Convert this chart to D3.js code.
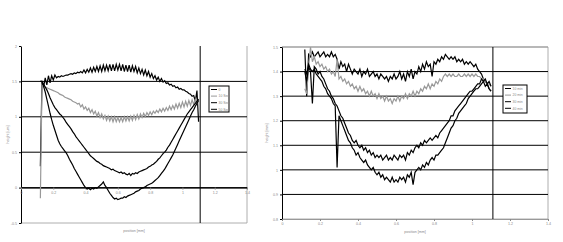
<!DOCTYPE html>
<html>
<head>
<meta charset="utf-8">
<script src="https://cdn.jsdelivr.net/npm/d3@7"></script>
<style>
  body { margin: 0; background: #fff; }
  svg { display: block; }
  text { font-family: "Liberation Sans", Arial, sans-serif; fill: #888; }
</style>
</head>
<body>
<svg id="chart" width="563" height="242"></svg>
<script>
// sample positions [mm], shared by both profiles
const positions = [0.12, 0.13, 0.14, 0.15, 0.16, 0.17, 0.18, 0.19, 0.20, 0.21,
  0.22, 0.23, 0.24, 0.25, 0.26, 0.27, 0.28, 0.29, 0.30, 0.31,
  0.32, 0.33, 0.34, 0.35, 0.36, 0.37, 0.38, 0.39, 0.40, 0.41,
  0.42, 0.43, 0.44, 0.45, 0.46, 0.47, 0.48, 0.49, 0.50, 0.51,
  0.52, 0.53, 0.54, 0.55, 0.56, 0.57, 0.58, 0.59, 0.60, 0.61,
  0.62, 0.63, 0.64, 0.65, 0.66, 0.67, 0.68, 0.69, 0.70, 0.71,
  0.72, 0.73, 0.74, 0.75, 0.76, 0.77, 0.78, 0.79, 0.80, 0.81,
  0.82, 0.83, 0.84, 0.85, 0.86, 0.87, 0.88, 0.89, 0.90, 0.91,
  0.92, 0.93, 0.94, 0.95, 0.96, 0.97, 0.98, 0.99, 1.00, 1.01,
  1.02, 1.03, 1.04, 1.05, 1.06, 1.07, 1.08, 1.09, 1.10];

// left chart: height [um]
const leftS0 = [0.30, 1.50, 1.42, 1.55, 1.45, 1.58, 1.48, 1.58, 1.52, 1.59,
  1.55, 1.57, 1.56, 1.58, 1.57, 1.58, 1.59, 1.59, 1.60, 1.61,
  1.60, 1.62, 1.61, 1.63, 1.62, 1.64, 1.62, 1.66, 1.62, 1.67,
  1.63, 1.69, 1.63, 1.70, 1.64, 1.71, 1.64, 1.72, 1.64, 1.73,
  1.65, 1.73, 1.65, 1.74, 1.65, 1.74, 1.65, 1.74, 1.66, 1.74,
  1.65, 1.74, 1.64, 1.73, 1.64, 1.73, 1.63, 1.72, 1.64, 1.71,
  1.62, 1.69, 1.61, 1.67, 1.59, 1.66, 1.58, 1.64, 1.56, 1.61,
  1.54, 1.58, 1.52, 1.56, 1.50, 1.54, 1.49, 1.51, 1.47, 1.48,
  1.45, 1.46, 1.43, 1.44, 1.41, 1.42, 1.39, 1.40, 1.38, 1.38,
  1.36, 1.35, 1.33, 1.32, 1.29, 1.30, 1.22, 1.37, 0.93];
const leftS1 = [-0.15, 1.45, 1.43, 1.42, 1.41, 1.40, 1.39, 1.38, 1.37, 1.36,
  1.35, 1.34, 1.32, 1.31, 1.30, 1.28, 1.27, 1.26, 1.25, 1.24,
  1.22, 1.21, 1.20, 1.18, 1.19, 1.14, 1.17, 1.11, 1.14, 1.09,
  1.12, 1.06, 1.10, 1.04, 1.08, 1.01, 1.06, 0.99, 1.04, 0.97,
  1.02, 0.95, 1.01, 0.94, 1.00, 0.93, 1.00, 0.93, 0.99, 0.93,
  0.99, 0.93, 1.00, 0.94, 1.00, 0.94, 1.01, 0.95, 1.02, 0.96,
  1.03, 0.97, 1.04, 0.99, 1.05, 1.00, 1.06, 1.02, 1.07, 1.03,
  1.08, 1.05, 1.09, 1.06, 1.11, 1.07, 1.12, 1.08, 1.13, 1.09,
  1.15, 1.10, 1.16, 1.11, 1.18, 1.12, 1.19, 1.13, 1.21, 1.14,
  1.22, 1.15, 1.23, 1.16, 1.24, 1.17, 1.25, 1.19, 1.24];
const leftS2 = [1.50, 1.50, 1.46, 1.42, 1.38, 1.33, 1.27, 1.22, 1.17, 1.13,
  1.10, 1.07, 1.04, 1.02, 0.99, 0.96, 0.92, 0.89, 0.86, 0.83,
  0.79, 0.76, 0.72, 0.69, 0.66, 0.63, 0.60, 0.57, 0.54, 0.51,
  0.48, 0.45, 0.43, 0.41, 0.39, 0.37, 0.36, 0.34, 0.33, 0.31,
  0.30, 0.29, 0.28, 0.27, 0.25, 0.26, 0.24, 0.23, 0.22, 0.21,
  0.22, 0.20, 0.21, 0.19, 0.18, 0.20, 0.17, 0.20, 0.19, 0.21,
  0.20, 0.22, 0.23, 0.24, 0.25, 0.26, 0.27, 0.29, 0.30, 0.32,
  0.33, 0.35, 0.37, 0.40, 0.42, 0.45, 0.48, 0.50, 0.53, 0.57,
  0.60, 0.64, 0.68, 0.72, 0.76, 0.80, 0.84, 0.88, 0.92, 0.96,
  1.00, 1.04, 1.07, 1.10, 1.13, 1.16, 1.19, 1.22, 1.25];
const leftS3 = [1.50, 1.50, 1.43, 1.35, 1.25, 1.15, 1.05, 0.96, 0.88, 0.81,
  0.74, 0.67, 0.62, 0.58, 0.55, 0.52, 0.49, 0.45, 0.40, 0.36,
  0.32, 0.27, 0.23, 0.19, 0.15, 0.11, 0.07, 0.03, 0.00, -0.02,
  -0.01, -0.03, -0.01, -0.02, 0.00, -0.01, 0.01, 0.03, 0.05, 0.08,
  0.03, 0.00, -0.04, -0.08, -0.11, -0.14, -0.16, -0.15, -0.17, -0.16,
  -0.15, -0.15, -0.13, -0.14, -0.12, -0.11, -0.10, -0.09, -0.08, -0.06,
  -0.05, -0.04, -0.02, -0.01, 0.00, 0.01, 0.03, 0.04, 0.05, 0.06,
  0.08, 0.10, 0.12, 0.14, 0.17, 0.20, 0.23, 0.26, 0.30, 0.34,
  0.38, 0.42, 0.46, 0.51, 0.56, 0.61, 0.66, 0.71, 0.76, 0.81,
  0.86, 0.91, 0.96, 1.01, 1.06, 1.10, 1.15, 1.19, 1.23];
const leftNames = ["0", "10 Sec", "30 Sec", "50 Sec"];
const leftYTicks = [-0.5, 0, 0.5, 1, 1.5, 2];
const leftGrid = [0, 0.5, 1, 1.5];

// right chart: height [mm]
const rightS0 = [1.49, 1.30, 1.47, 1.46, 1.48, 1.46, 1.47, 1.48, 1.46, 1.47,
  1.48, 1.46, 1.47, 1.46, 1.48, 1.46, 1.47, 1.45, 1.41, 1.44,
  1.42, 1.43, 1.40, 1.43, 1.41, 1.39, 1.41, 1.40, 1.39, 1.41,
  1.38, 1.40, 1.39, 1.41, 1.38, 1.39, 1.40, 1.38, 1.39, 1.37,
  1.39, 1.38, 1.37, 1.38, 1.36, 1.38, 1.37, 1.39, 1.37, 1.38,
  1.40, 1.37, 1.39, 1.36, 1.40, 1.38, 1.41, 1.37, 1.40, 1.39,
  1.42, 1.40, 1.43, 1.41, 1.44, 1.42, 1.43, 1.38, 1.44, 1.43,
  1.45, 1.44, 1.46, 1.45, 1.47, 1.46, 1.45, 1.46, 1.45, 1.46,
  1.44, 1.45, 1.44, 1.45, 1.43, 1.44, 1.43, 1.44, 1.43, 1.42,
  1.43, 1.41, 1.40, 1.39, 1.37, 1.36, 1.35, 1.33, 1.32];
const rightS1 = [1.33, 1.31, 1.42, 1.50, 1.44, 1.46, 1.43, 1.44, 1.42, 1.43,
  1.41, 1.42, 1.40, 1.41, 1.39, 1.40, 1.38, 1.45, 1.37, 1.38,
  1.36, 1.37, 1.35, 1.36, 1.34, 1.35, 1.33, 1.34, 1.32, 1.34,
  1.32, 1.33, 1.31, 1.32, 1.30, 1.32, 1.30, 1.31, 1.29, 1.31,
  1.29, 1.30, 1.28, 1.30, 1.28, 1.29, 1.27, 1.29, 1.28, 1.30,
  1.28, 1.30, 1.29, 1.31, 1.29, 1.31, 1.30, 1.32, 1.30, 1.32,
  1.31, 1.33, 1.32, 1.34, 1.33, 1.35, 1.33, 1.35, 1.34, 1.36,
  1.35, 1.37, 1.36, 1.38, 1.39, 1.38, 1.39, 1.38, 1.39, 1.38,
  1.38, 1.39, 1.38, 1.38, 1.39, 1.38, 1.39, 1.38, 1.39, 1.38,
  1.39, 1.38, 1.38, 1.37, 1.37, 1.36, 1.35, 1.35, 1.34];
const rightS2 = [1.40, 1.36, 1.42, 1.40, 1.27, 1.42, 1.41, 1.39, 1.40, 1.38,
  1.37, 1.35, 1.33, 1.32, 1.30, 1.29, 1.27, 1.26, 1.24, 1.22,
  1.21, 1.19, 1.17, 1.15, 1.14, 1.12, 1.11, 1.12, 1.10, 1.09,
  1.10, 1.08, 1.09, 1.07, 1.08, 1.06, 1.07, 1.05, 1.06, 1.05,
  1.06, 1.04, 1.05, 1.06, 1.04, 1.05, 1.04, 1.06, 1.05, 1.04,
  1.06, 1.05, 1.06, 1.04, 1.07, 1.06, 1.08, 1.07, 1.09, 1.10,
  1.09, 1.11, 1.10, 1.12, 1.11, 1.12, 1.13, 1.12, 1.13, 1.14,
  1.13, 1.15, 1.16, 1.17, 1.18, 1.19, 1.20, 1.22, 1.22, 1.24,
  1.25, 1.26, 1.27, 1.28, 1.29, 1.30, 1.31, 1.32, 1.32, 1.33,
  1.34, 1.35, 1.35, 1.37, 1.36, 1.37, 1.35, 1.36, 1.34];
const rightS3 = [1.41, 1.39, 1.43, 1.41, 1.40, 1.41, 1.39, 1.38, 1.37, 1.36,
  1.34, 1.33, 1.31, 1.30, 1.29, 1.27, 1.26, 1.01, 1.22, 1.20,
  1.18, 1.16, 1.14, 1.12, 1.11, 1.09, 1.08, 1.06, 1.07, 1.05,
  1.04, 1.03, 1.04, 1.02, 1.01, 1.00, 1.01, 0.99, 0.98, 0.99,
  0.97, 0.98, 0.96, 0.97, 0.96, 0.95, 0.97, 0.95, 0.96, 0.95,
  0.97, 0.96, 0.97, 0.95, 0.98, 0.97, 0.99, 0.94, 0.99, 1.00,
  1.01, 1.00, 1.02, 1.01, 1.03, 1.02, 1.04, 1.05, 1.04, 1.06,
  1.06, 1.07, 1.08, 1.09, 1.11, 1.13, 1.15, 1.17, 1.18, 1.20,
  1.21, 1.23, 1.24, 1.25, 1.26, 1.27, 1.29, 1.30, 1.31, 1.32,
  1.33, 1.33, 1.34, 1.35, 1.36, 1.34, 1.35, 1.33, 1.32];
const rightNames = ["10 min", "20 min", "30 min", "40 min"];
const rightYTicks = [0.8, 0.9, 1, 1.1, 1.2, 1.3, 1.4, 1.5];
const rightGrid = [0.9, 1, 1.1, 1.2, 1.3, 1.4, 1.5];

const xTicks = [0, 0.2, 0.4, 0.6, 0.8, 1, 1.2, 1.4];
const cutPosition = 1.11;
const seriesColors = ["#000", "#999", "#000", "#000"];

const svg = d3.select("#chart");
const fmt = d => String(d);

function drawChart(o) {
  const g = svg.append("g");
  const x = d3.scaleLinear().domain([0, 1.4]).range([o.left, o.right]);
  const y = d3.scaleLinear().domain(o.yDomain).range([o.bottom, o.top]);

  // plot frame (light grey), top edge only where visible
  if (o.topBorder) {
    g.append("line")
      .attr("x1", o.left).attr("x2", o.right)
      .attr("y1", o.top).attr("y2", o.top)
      .attr("stroke", "#999").attr("stroke-width", 0.8);
  }
  g.append("path")
    .attr("d", `M${o.right},${o.top}V${o.bottom}H${o.left}`)
    .attr("fill", "none")
    .attr("stroke", "#999")
    .attr("stroke-width", 0.8);

  // horizontal gridlines
  g.selectAll("line.grid")
    .data(o.grid)
    .enter()
    .append("line")
    .attr("x1", o.left)
    .attr("x2", o.right)
    .attr("y1", d => y(d))
    .attr("y2", d => y(d))
    .attr("stroke", d => d === o.yDomain[1] ? "#999" : "#000")
    .attr("stroke-width", 1);

  // vertical marker line
  g.append("line")
    .attr("x1", x(cutPosition)).attr("x2", x(cutPosition))
    .attr("y1", o.top).attr("y2", o.bottom)
    .attr("stroke", "#000").attr("stroke-width", 1);

  // y axis
  const ya = g.append("g")
    .attr("transform", `translate(${o.left},0)`)
    .call(d3.axisLeft(y).tickValues(o.yTicks).tickFormat(fmt)
      .tickSize(2).tickSizeOuter(0).tickPadding(2));
  ya.select(".domain").attr("stroke", "#000").attr("stroke-width", 1);
  ya.selectAll(".tick line").attr("stroke", "#000");
  ya.selectAll("text").style("font-size", "3.6px").attr("fill", "#888");

  // x axis
  const xa = g.append("g")
    .attr("transform", `translate(0,${y(o.xAxisAt)})`)
    .call(d3.axisBottom(x).tickValues(xTicks).tickFormat(fmt)
      .tickSize(2).tickSizeOuter(0).tickPadding(1.5));
  xa.select(".domain").attr("stroke", o.xAxisAt === o.yDomain[0] ? "#999" : "#000");
  xa.selectAll(".tick line").attr("stroke", "#888");
  xa.selectAll("text").style("font-size", "3.6px").attr("fill", "#888");

  // data lines
  const line = d3.line()
    .x(d => x(d[0]))
    .y(d => y(d[1]));
  o.series.forEach((vals, i) => {
    const pts = vals.map((v, k) => [positions[k], v]).filter(d => d[0] !== undefined);
    g.append("path")
      .datum(pts)
      .attr("fill", "none")
      .attr("stroke", seriesColors[i])
      .attr("stroke-width", 1.2)
      .attr("stroke-linejoin", "miter")
      .attr("d", line);
  });

  // axis titles
  g.append("text")
    .attr("transform", `translate(${o.yTitleX},${(o.top + o.bottom) / 2}) rotate(-90)`)
    .attr("text-anchor", "middle")
    .style("font-size", "3.6px")
    .text(o.yTitle);
  g.append("text")
    .attr("x", (o.left + o.right) / 2)
    .attr("y", o.xTitleY)
    .attr("text-anchor", "middle")
    .style("font-size", "3.6px")
    .text("position [mm]");

  // legend
  const lg = g.append("g").attr("transform", `translate(${o.legend[0]},${o.legend[1]})`);
  lg.append("rect")
    .attr("width", o.legend[2]).attr("height", o.legend[3])
    .attr("fill", "#fff").attr("stroke", "#000").attr("stroke-width", 1);
  o.names.forEach((name, i) => {
    const ly = 3.5 + i * 6.6;
    lg.append("line")
      .attr("x1", 2).attr("x2", 8)
      .attr("y1", ly).attr("y2", ly)
      .attr("stroke", seriesColors[i]).attr("stroke-width", 1);
    lg.append("text")
      .attr("x", 9.5).attr("y", ly + 1.2)
      .style("font-size", "3.4px")
      .text(name);
  });
}

drawChart({
  left: 21, right: 247, top: 46, bottom: 223,
  yDomain: [-0.5, 2], yTicks: leftYTicks, grid: leftGrid, xAxisAt: 0,
  series: [leftS0, leftS1, leftS2, leftS3], names: leftNames,
  yTitle: "height [um]", yTitleX: 9, xTitleY: 232, topBorder: false,
  legend: [209, 86, 20, 26]
});

drawChart({
  left: 282, right: 548, top: 47, bottom: 219,
  yDomain: [0.8, 1.5], yTicks: rightYTicks, grid: rightGrid, xAxisAt: 0.8,
  series: [rightS0, rightS1, rightS2, rightS3], names: rightNames,
  yTitle: "height [mm]", yTitleX: 268, xTitleY: 233, topBorder: true,
  legend: [503, 85, 24, 28]
});
</script>
</body>
</html>
